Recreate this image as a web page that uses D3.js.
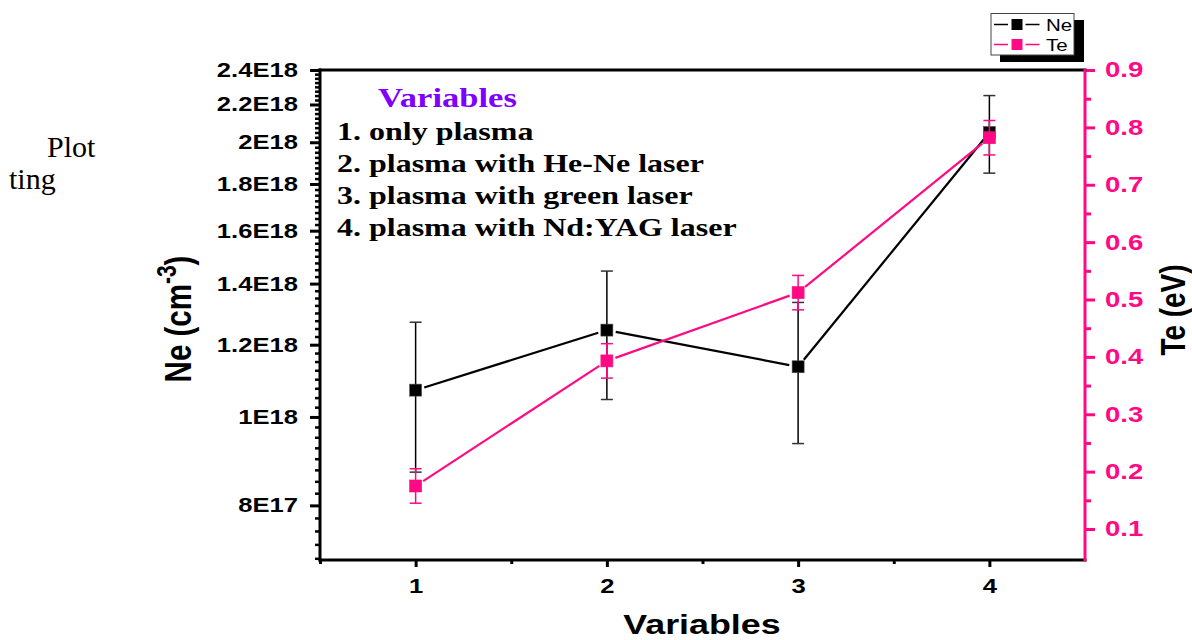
<!DOCTYPE html>
<html>
<head>
<meta charset="utf-8">
<script src="https://cdn.jsdelivr.net/npm/d3@7"></script>
<style>
  html, body { margin: 0; padding: 0; background: #fff; }
  svg { display: block; }
</style>
</head>
<body>
<div id="chart"></div>
<script>
/* Ne / Te vs. plasma variables — dual axis (log Ne, linear Te) with error bars */
(function () {
  'use strict';

  // ── Data ──
  var CATEGORIES = [1, 2, 3, 4];
  var NE_VALUES = [1.07e18, 1.245e18, 1.135e18, 2.05e18];
  var NE_ERRORS = [2e17, 2e17, 2e17, 2e17];
  var TE_VALUES = [0.175, 0.393, 0.512, 0.782];
  var TE_ERRORS = [0.03, 0.03, 0.03, 0.03];

  var NE_TICKS = [8e17, 1e18, 1.2e18, 1.4e18, 1.6e18, 1.8e18, 2e18, 2.2e18, 2.4e18];
  var NE_TICK_LABELS = ['8E17', '1E18', '1.2E18', '1.4E18', '1.6E18', '1.8E18', '2E18', '2.2E18', '2.4E18'];
  var TE_TICKS = [0.1, 0.2, 0.3, 0.4, 0.5, 0.6, 0.7, 0.8, 0.9];
  var X_TICKS = [1, 2, 3, 4];

  var NOTE_TITLE = 'Variables';
  var NOTE_LINES = [
    '1. only plasma',
    '2. plasma with He-Ne laser',
    '3. plasma with green laser',
    '4. plasma with Nd:YAG laser'
  ];

  // ── Constants ──
  var WIDTH = 1192;
  var HEIGHT = 640;
  var LEFT = 320, RIGHT = 1085, TOP = 70, BOTTOM = 560;
  var SX = 1.28; // the picture is stretched horizontally
  var PINK = '#ff0a84';
  var PURPLE = '#8000ff';
  var SANS = 'Arial, "Liberation Sans", sans-serif';
  var SERIF = '"Times New Roman", "Liberation Serif", serif';
  var MARKER = 12;
  var CAP = 12;
  var GAP = 9;

  // ── Helpers ──
  function stretchTicks(axisG) {
    axisG.selectAll('text').each(function () {
      var t = d3.select(this);
      var x = +t.attr('x') || 0;
      var y = +t.attr('y') || 0;
      t.attr('x', 0).attr('y', 0)
        .attr('transform', 'translate(' + x + ',' + y + ') scale(' + SX + ',1)');
    });
  }

  function addText(parent, x, y, str, opts) {
    return parent.append('text')
      .attr('transform', 'translate(' + x + ',' + y + ') scale(' + SX + ',1)' + (opts.rotate ? ' rotate(' + opts.rotate + ')' : ''))
      .attr('text-anchor', opts.anchor || 'start')
      .attr('font-family', opts.family || SANS)
      .attr('font-size', opts.size)
      .attr('font-weight', opts.weight || 'normal')
      .attr('fill', opts.fill || '#000')
      .text(str);
  }

  // shorten each segment so the line stops short of the markers
  function gappedSegments(pts, gap) {
    var segs = [];
    for (var i = 0; i < pts.length - 1; i++) {
      var a = pts[i], b = pts[i + 1];
      var dx = b[0] - a[0], dy = b[1] - a[1];
      var len = Math.sqrt(dx * dx + dy * dy);
      if (len <= gap * 2) continue;
      var ux = dx / len, uy = dy / len;
      segs.push([[a[0] + ux * gap, a[1] + uy * gap], [b[0] - ux * gap, b[1] - uy * gap]]);
    }
    return segs;
  }

  // ── SVG ──
  var svg = d3.select('#chart').append('svg')
    .attr('width', WIDTH)
    .attr('height', HEIGHT)
    .attr('viewBox', '0 0 ' + WIDTH + ' ' + HEIGHT);

  svg.append('rect').attr('width', WIDTH).attr('height', HEIGHT).attr('fill', '#fff');

  // ── Scales ──
  var x = d3.scaleLinear().domain([0.5, 4.5]).range([LEFT, RIGHT]);
  var yNe = d3.scaleLog().domain([6.97e17, 2.4e18]).range([BOTTOM, TOP]);
  var yTe = d3.scaleLinear().domain([0.046, 0.9]).range([BOTTOM, TOP]);

  // ── Stray document text ──
  svg.append('text').attr('x', 47).attr('y', 157)
    .attr('font-family', SERIF).attr('font-size', 30).text('Plot');
  svg.append('text').attr('x', 9).attr('y', 189)
    .attr('font-family', SERIF).attr('font-size', 30).text('ting');

  // ── Axes ──
  var neMinor = d3.range(7e17, 2.41e18, 2.5e16).filter(function (v) {
    return v >= 6.97e17 && !NE_TICKS.some(function (t) { return Math.abs(t - v) < 1e15; });
  });

  var gLeftMinor = svg.append('g').attr('transform', 'translate(' + LEFT + ',0)')
    .call(d3.axisLeft(yNe).tickValues(neMinor).tickFormat('').tickSize(5).tickSizeOuter(0));
  gLeftMinor.select('.domain').remove();
  gLeftMinor.selectAll('line').attr('stroke', '#000').attr('stroke-width', 2.5);

  var gLeft = svg.append('g').attr('transform', 'translate(' + LEFT + ',0)')
    .call(d3.axisLeft(yNe).tickValues(NE_TICKS)
      .tickFormat(function (d, i) { return NE_TICK_LABELS[i]; })
      .tickSize(10).tickSizeOuter(0).tickPadding(12));
  gLeft.select('.domain').remove();
  gLeft.selectAll('line').attr('stroke', '#000').attr('stroke-width', 3);
  gLeft.selectAll('text').attr('font-family', SANS).attr('font-size', 20)
    .attr('font-weight', 'bold').attr('fill', '#000');
  stretchTicks(gLeft);

  var teMinor = [0.05, 0.15, 0.25, 0.35, 0.45, 0.55, 0.65, 0.75, 0.85];
  var gRightMinor = svg.append('g').attr('transform', 'translate(' + RIGHT + ',0)')
    .call(d3.axisRight(yTe).tickValues(teMinor.filter(function (v) { return v > 0.06; }))
      .tickFormat('').tickSize(6).tickSizeOuter(0));
  gRightMinor.select('.domain').remove();
  gRightMinor.selectAll('line').attr('stroke', PINK).attr('stroke-width', 3);

  var gRight = svg.append('g').attr('transform', 'translate(' + RIGHT + ',0)')
    .call(d3.axisRight(yTe).tickValues(TE_TICKS).tickFormat(d3.format('.1f'))
      .tickSize(10).tickSizeOuter(0).tickPadding(10));
  gRight.select('.domain').remove();
  gRight.selectAll('line').attr('stroke', PINK).attr('stroke-width', 3);
  gRight.selectAll('text').attr('font-family', SANS).attr('font-size', 21.5)
    .attr('font-weight', 'bold').attr('fill', PINK);
  stretchTicks(gRight);

  var gBottomMinor = svg.append('g').attr('transform', 'translate(0,' + BOTTOM + ')')
    .call(d3.axisBottom(x).tickValues([0.5, 1.5, 2.5, 3.5]).tickFormat('').tickSize(4).tickSizeOuter(0));
  gBottomMinor.select('.domain').remove();
  gBottomMinor.selectAll('line').attr('stroke', '#000').attr('stroke-width', 3);

  var gBottom = svg.append('g').attr('transform', 'translate(0,' + BOTTOM + ')')
    .call(d3.axisBottom(x).tickValues(X_TICKS).tickFormat(d3.format('d'))
      .tickSize(7).tickSizeOuter(0).tickPadding(12));
  gBottom.select('.domain').remove();
  gBottom.selectAll('line').attr('stroke', '#000').attr('stroke-width', 3);
  gBottom.selectAll('text').attr('font-family', SANS).attr('font-size', 20)
    .attr('font-weight', 'bold').attr('fill', '#000');
  stretchTicks(gBottom);

  // frame lines
  var frame = svg.append('g').attr('stroke-width', 3).attr('stroke-linecap', 'square');
  frame.append('line').attr('x1', LEFT).attr('x2', RIGHT).attr('y1', TOP).attr('y2', TOP).attr('stroke', '#000');
  frame.append('line').attr('x1', LEFT).attr('x2', RIGHT).attr('y1', BOTTOM).attr('y2', BOTTOM).attr('stroke', '#000');
  frame.append('line').attr('x1', LEFT).attr('x2', LEFT).attr('y1', TOP).attr('y2', BOTTOM).attr('stroke', '#000');
  frame.append('line').attr('x1', RIGHT).attr('x2', RIGHT).attr('y1', TOP).attr('y2', BOTTOM).attr('stroke', PINK);

  // ── Axis titles ──
  addText(svg, 702, 634, 'Variables', { anchor: 'middle', size: 28, weight: 'bold' });

  var neTitle = svg.append('text')
    .attr('transform', 'translate(191,319) scale(' + SX + ',1) rotate(-90)')
    .attr('text-anchor', 'middle')
    .attr('font-family', SANS).attr('font-size', 29.5).attr('font-weight', 'bold');
  neTitle.append('tspan').text('Ne (cm');
  neTitle.append('tspan').attr('dy', -12).attr('font-size', 21).text('-3');
  neTitle.append('tspan').attr('dy', 12).text(')');

  addText(svg, 1185, 310, 'Te (eV)', { anchor: 'middle', size: 28, weight: 'bold', rotate: -90 });

  // ── Series ──
  function drawSeries(values, errors, yScale, color, capColor) {
    var g = svg.append('g');
    var pts = CATEGORIES.map(function (c, i) { return [x(c), yScale(values[i])]; });

    g.selectAll('.seg')
      .data(gappedSegments(pts, GAP))
      .join('line')
      .attr('class', 'seg')
      .attr('x1', function (d) { return d[0][0]; })
      .attr('y1', function (d) { return d[0][1]; })
      .attr('x2', function (d) { return d[1][0]; })
      .attr('y2', function (d) { return d[1][1]; })
      .attr('stroke', color)
      .attr('stroke-width', 2.2);

    var err = g.selectAll('.err')
      .data(CATEGORIES)
      .join('g')
      .attr('class', 'err');

    err.append('line')
      .attr('x1', function (d) { return x(d); })
      .attr('x2', function (d) { return x(d); })
      .attr('y1', function (d, i) { return yScale(values[i] + errors[i]); })
      .attr('y2', function (d, i) { return yScale(values[i] - errors[i]); })
      .attr('stroke', color).attr('stroke-width', 1.5);

    [1, -1].forEach(function (sign) {
      err.append('line')
        .attr('x1', function (d) { return x(d) - CAP / 2; })
        .attr('x2', function (d) { return x(d) + CAP / 2; })
        .attr('y1', function (d, i) { return yScale(values[i] + sign * errors[i]); })
        .attr('y2', function (d, i) { return yScale(values[i] + sign * errors[i]); })
        .attr('stroke', capColor).attr('stroke-width', 1.5);
    });

    g.selectAll('.marker')
      .data(pts)
      .join('rect')
      .attr('class', 'marker')
      .attr('x', function (d) { return d[0] - MARKER / 2; })
      .attr('y', function (d) { return d[1] - MARKER / 2; })
      .attr('width', MARKER)
      .attr('height', MARKER)
      .attr('fill', color)
      .attr('stroke', color === '#000' ? '#555' : color)
      .attr('stroke-width', 0.6);
  }

  drawSeries(NE_VALUES, NE_ERRORS, yNe, '#000', '#333');
  drawSeries(TE_VALUES, TE_ERRORS, yTe, PINK, PINK);

  // ── Notes ──
  addText(svg, 378, 107, NOTE_TITLE, { size: 27, weight: 'bold', family: SERIF, fill: PURPLE });
  NOTE_LINES.forEach(function (line, i) {
    addText(svg, 337, 140 + i * 31.9, line, { size: 25, weight: 'bold', family: SERIF });
  });

  // ── Legend ──
  var legend = svg.append('g');
  legend.append('rect').attr('x', 1000).attr('y', 20).attr('width', 84).attr('height', 42).attr('fill', '#000');
  legend.append('rect').attr('x', 991).attr('y', 13.5).attr('width', 83).attr('height', 41.5)
    .attr('fill', '#fff').attr('stroke', '#444').attr('stroke-width', 1);

  var LEGEND_ITEMS = [
    { label: 'Ne', color: '#000' },
    { label: 'Te', color: PINK }
  ];
  LEGEND_ITEMS.forEach(function (item, i) {
    var ly = 24.5 + i * 20;
    legend.append('line').attr('x1', 994).attr('x2', 1008).attr('y1', ly).attr('y2', ly)
      .attr('stroke', item.color).attr('stroke-width', 1.5);
    legend.append('line').attr('x1', 1025.5).attr('x2', 1039.5).attr('y1', ly).attr('y2', ly)
      .attr('stroke', item.color).attr('stroke-width', 1.5);
    legend.append('rect').attr('x', 1011.5).attr('y', ly - 5.5).attr('width', 11).attr('height', 11)
      .attr('fill', item.color);
    addText(legend, 1046, ly + 6, item.label, { size: 16 });
  });
})();
</script>
</body>
</html>
